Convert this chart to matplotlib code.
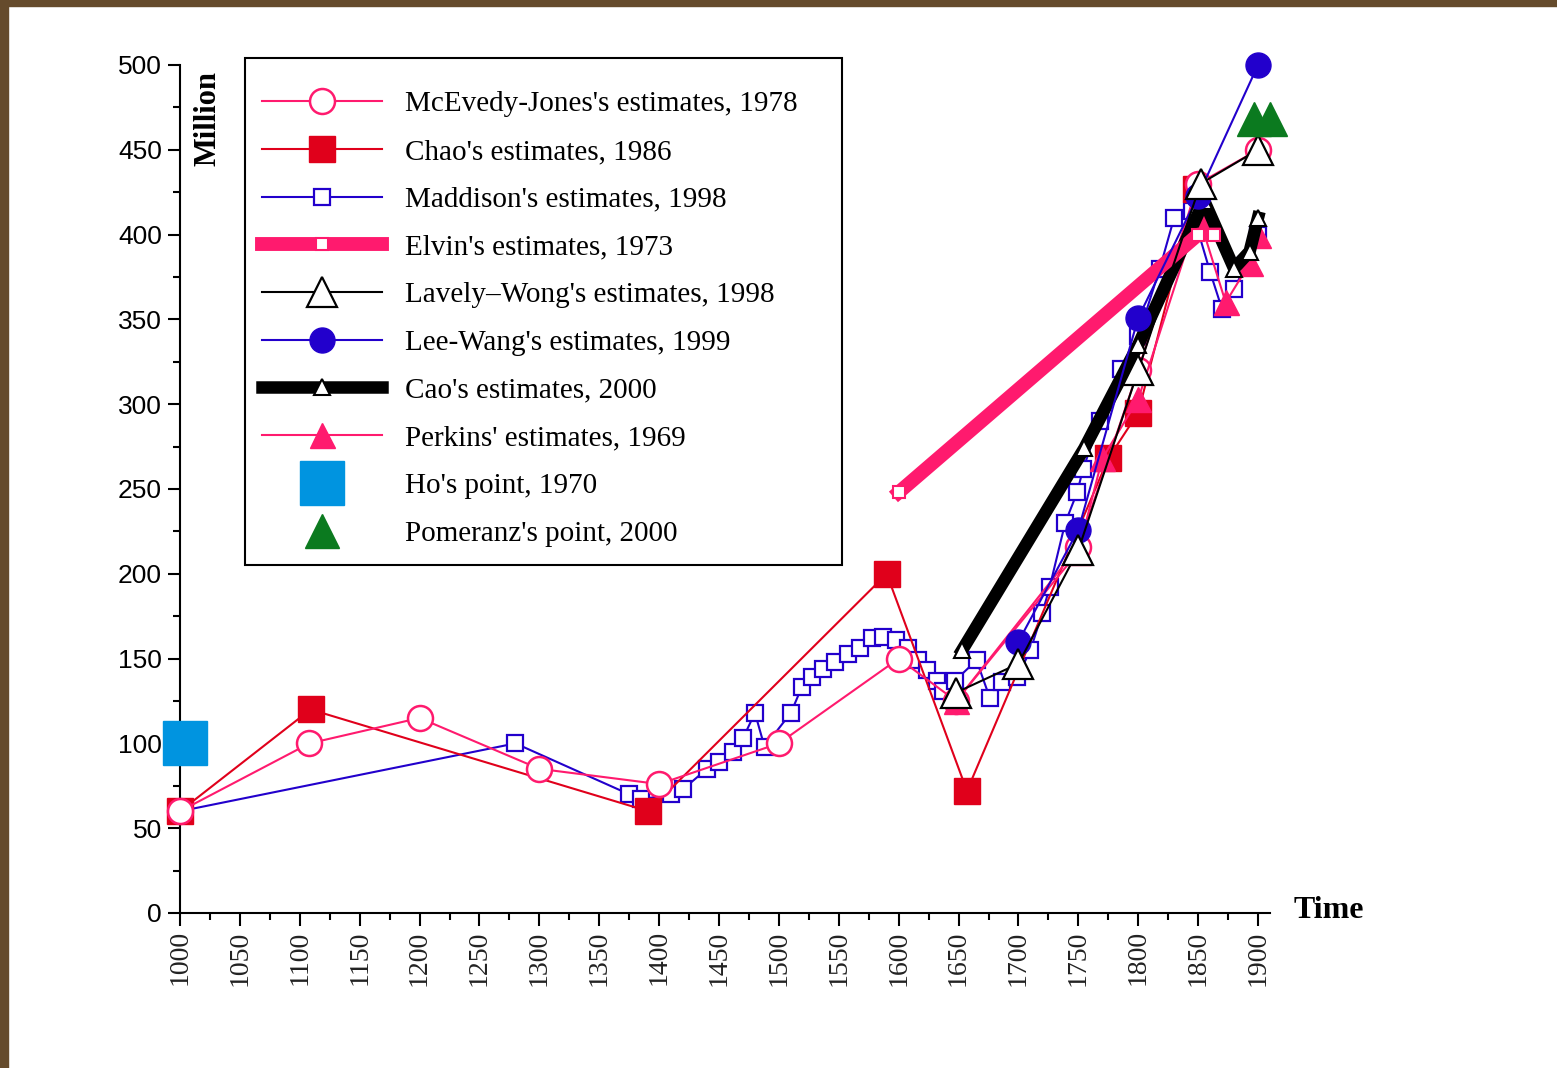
import matplotlib
matplotlib.use('Agg')
import matplotlib.pyplot as plt
from matplotlib.patches import Rectangle
from matplotlib.ticker import MultipleLocator

# ---- data (year, million) ----
mcevedy_years = [1000, 1108, 1200, 1300, 1400, 1500, 1600, 1648, 1750, 1800, 1850, 1900]
mcevedy_vals = [60, 100, 115, 85, 76, 100, 150, 125, 216, 320, 430, 450]

chao_years = [1000, 1109, 1391, 1590, 1657, 1775, 1800, 1848]
chao_vals = [60, 120, 60, 200, 72, 268, 295, 427]

maddison_years = [1000, 1280, 1375, 1385, 1410, 1420, 1440, 1450, 1462, 1470, 1480,
                  1488, 1510, 1519, 1528, 1537, 1547, 1558, 1568, 1578, 1587, 1598,
                  1608, 1616, 1624, 1632, 1637, 1647, 1665, 1676, 1686, 1699, 1710,
                  1720, 1726, 1739, 1749, 1754, 1768, 1786, 1800, 1818, 1830, 1845,
                  1860, 1870, 1880, 1890, 1900]
maddison_vals = [60, 100, 70, 67, 70, 73, 85, 89, 95, 103, 118,
                 98, 118, 133, 139, 144, 148, 153, 156, 162, 163, 161,
                 156, 149, 143, 137, 131, 137, 149, 127, 136, 139, 155,
                 177, 192, 230, 248, 262, 290, 321, 340, 380, 410, 414,
                 378, 356, 368, 382, 400]

elvin_years = [1600, 1850, 1863]
elvin_vals = [248, 400, 400]

lavely_years = [1648, 1700, 1750, 1800, 1852, 1900]
lavely_vals = [130, 147, 214, 320, 430, 450]

leewang_years = [1700, 1750, 1800, 1850, 1900]
leewang_vals = [160, 226, 351, 423, 500]

cao_years = [1653, 1755, 1800, 1855, 1880, 1893, 1900]
cao_vals = [155, 274, 335, 420, 380, 390, 410]

perkins_years = [1648, 1750, 1770, 1800, 1850, 1873, 1893, 1900]
perkins_vals = [125, 213, 268, 303, 412, 360, 383, 400]

ho_years = [1004]
ho_vals = [100]

pomeranz_years = [1897, 1910]
pomeranz_vals = [468, 468]

PINK = '#ff1a6e'
RED = '#e0001b'
BLUE = '#2200cc'
SKY = '#0094e0'
GREEN = '#0b7a1f'

plt.rcParams['font.family'] = ['Liberation Serif', 'DejaVu Serif']

fig = plt.figure(figsize=(15.57, 10.68), dpi=100)
W, H = 1557., 1068.
# brown frame strips (top and left)
fig.patches.append(Rectangle((0, 1 - 6 / H), 1, 6 / H, transform=fig.transFigure,
                             color='#654b2c', zorder=0))
fig.patches.append(Rectangle((0, 0), 8 / W, 1, transform=fig.transFigure,
                             color='#654b2c', zorder=0))

ax = fig.add_axes([180 / W, 155 / H, 1090 / W, 848 / H])
ax.set_xlim(1000, 1910)
ax.set_ylim(0, 500)

common = dict(clip_on=False)
l_mad, = ax.plot(maddison_years, maddison_vals, color=BLUE, lw=1.5, marker='s', ms=12,
                 mfc='white', mec=BLUE, mew=1.6, zorder=2, **common)
l_chao, = ax.plot(chao_years, chao_vals, color=RED, lw=1.5, marker='s', ms=19,
                  mfc=RED, mec=RED, zorder=3, **common)
l_mce, = ax.plot(mcevedy_years, mcevedy_vals, color=PINK, lw=1.5, marker='o', ms=18,
                 mfc='white', mec=PINK, mew=1.8, zorder=4, **common)
l_per, = ax.plot(perkins_years, perkins_vals, color=PINK, lw=1.5, marker='^', ms=18,
                 mfc=PINK, mec=PINK, zorder=5, **common)
l_cao, = ax.plot(cao_years, cao_vals, color='black', lw=9, marker='^', ms=11,
                 mfc='white', mec='black', mew=1.5, zorder=6, **common)
l_elv, = ax.plot(elvin_years, elvin_vals, color=PINK, lw=10, marker='s', ms=9,
                 mfc='white', mec=PINK, mew=1.5, zorder=7, **common)
l_lee, = ax.plot(leewang_years, leewang_vals, color=BLUE, lw=1.5, marker='o', ms=18,
                 mfc=BLUE, mec=BLUE, zorder=8, **common)
l_lav, = ax.plot(lavely_years, lavely_vals, color='black', lw=1.5, marker='^', ms=21,
                 mfc='white', mec='black', mew=1.6, zorder=9, **common)
l_ho, = ax.plot(ho_years, ho_vals, ls='none', marker='s', ms=31, color=SKY,
                zorder=10, **common)
l_pom, = ax.plot(pomeranz_years, pomeranz_vals, ls='none', marker='^', ms=25, color=GREEN,
                 zorder=11, **common)

# axes styling
ax.spines['top'].set_visible(False)
ax.spines['right'].set_visible(False)
ax.spines['left'].set_linewidth(1.5)
ax.spines['bottom'].set_linewidth(1.5)
ax.xaxis.set_minor_locator(MultipleLocator(25))
ax.yaxis.set_major_locator(MultipleLocator(50))
ax.yaxis.set_minor_locator(MultipleLocator(25))
ax.set_xticks(range(1000, 1901, 50))
ax.tick_params(which='major', length=9, width=1.5, direction='out')
ax.tick_params(which='minor', length=5, width=1.5, direction='out')
ax.tick_params(axis='y', pad=4)
for t in ax.get_yticklabels():
    t.set_fontfamily('Liberation Sans')
    t.set_fontsize(19)
for t in ax.get_xticklabels():
    t.set_rotation(90)
    t.set_fontsize(20)
    t.set_color('#222222')

fig.text(208 / W, 1 - 118 / H, 'Million', rotation=90, ha='center', va='center',
         fontsize=22, fontweight='bold')
fig.text(1294 / W, 1 - 910 / H, 'Time', ha='left', va='center',
         fontsize=23, fontweight='bold')

# legend box drawn separately so it can be sized like the original
box = Rectangle((245 / W, 1 - 565 / H), (842 - 245) / W, (565 - 58) / H,
                transform=fig.transFigure, facecolor='white', edgecolor='black',
                lw=1.5, zorder=19, clip_on=False)
ax.add_patch(box)

handles = [l_mce, l_chao, l_mad, l_elv, l_lav, l_lee, l_cao, l_per, l_ho, l_pom]
labels = ["McEvedy-Jones's estimates, 1978",
          "Chao's estimates, 1986",
          "Maddison's estimates, 1998",
          "Elvin's estimates, 1973",
          "Lavely\u2013Wong's estimates, 1998",
          "Lee-Wang's estimates, 1999",
          "Cao's estimates, 2000",
          "Perkins' estimates, 1969",
          "Ho's point, 1970",
          "Pomeranz's point, 2000"]
leg = ax.legend(handles, labels, loc='upper left',
                bbox_to_anchor=(262 / W, 1 - 91 / H), bbox_transform=fig.transFigure,
                fontsize=21, frameon=False,
                handlelength=4.1, handletextpad=0.79, labelspacing=0.73,
                borderpad=0, borderaxespad=0)
leg.set_zorder(20)

fig.savefig('out.png', dpi=100, facecolor='white')
